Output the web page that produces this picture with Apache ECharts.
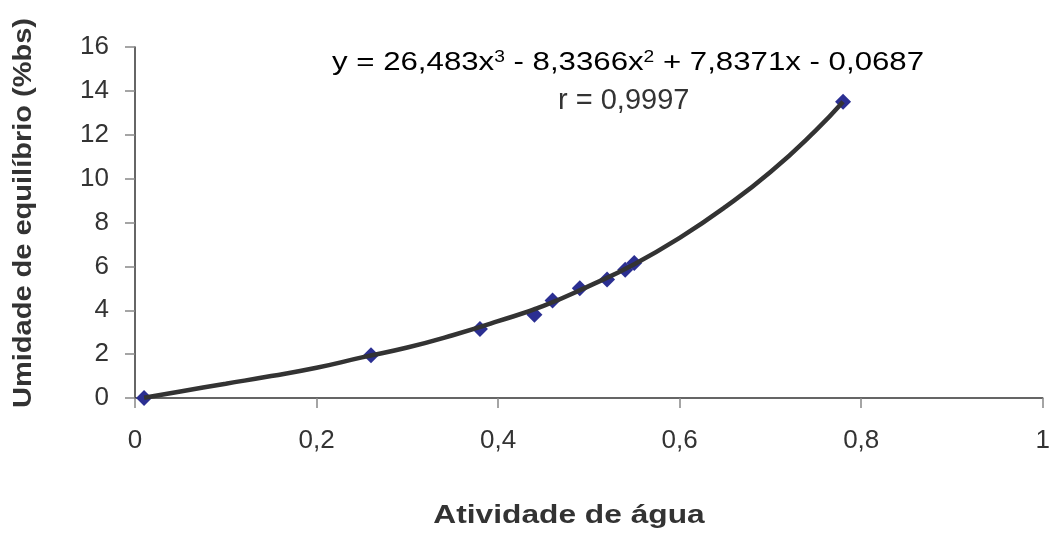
<!DOCTYPE html>
<html>
<head>
<meta charset="utf-8">
<script src="https://cdn.jsdelivr.net/npm/echarts@6/dist/echarts.min.js"></script>
<style>
  html, body { margin: 0; padding: 0; background: #fff; }
  #chart { width: 1053px; height: 536px; }
</style>
</head>
<body>
<div id="chart"></div>
<script>
// pontos medidos (atividade de água, umidade de equilíbrio)
const pontosX = [0.01, 0.26, 0.38, 0.44, 0.46, 0.49, 0.52, 0.54, 0.55, 0.78];
const pontosY = [0.0, 1.95, 3.15, 3.8, 4.45, 5.0, 5.4, 5.85, 6.15, 13.5];

// linha de tendência
const curvaX = [0.01, 0.05, 0.10, 0.15, 0.20, 0.25, 0.30, 0.35, 0.40, 0.45, 0.50, 0.55, 0.60, 0.65, 0.70, 0.75, 0.78];
const curvaY = [0.01, 0.30, 0.65, 1.00, 1.38, 1.85, 2.30, 2.86, 3.50, 4.20, 5.10, 6.10, 7.30, 8.70, 10.30, 12.20, 13.50];

// rótulos dos eixos
const ticksX = [0, 0.2, 0.4, 0.6, 0.8, 1];
const ticksY = [0, 2, 4, 6, 8, 10, 12, 14, 16];

const fonte = "'Liberation Sans', Arial, sans-serif";

let myChart = echarts.init(document.getElementById("chart"));

let option = {
  backgroundColor: "#fff",
  animation: false,
  grid: { left: 135, right: 5, top: 47, bottom: 138 },
  xAxis: {
    type: "value",
    min: ticksX[0],
    max: ticksX[ticksX.length - 1],
    interval: 0.2,
    axisLine: { lineStyle: { color: "#333", width: 1.5 } },
    axisTick: { show: true, length: 10, lineStyle: { color: "#888", width: 1.5 } },
    axisLabel: {
      fontFamily: fonte, fontSize: 26, color: "#333", margin: 30,
      formatter: (v) => String(+v.toFixed(1)).replace(".", ","),
    },
    splitLine: { show: false },
  },
  yAxis: {
    type: "value",
    min: ticksY[0],
    max: ticksY[ticksY.length - 1],
    interval: 2,
    axisLine: { show: true, lineStyle: { color: "#333", width: 1.5 } },
    axisTick: { show: true, length: 10, lineStyle: { color: "#888", width: 1.5 } },
    axisLabel: { fontFamily: fonte, fontSize: 26, color: "#333", margin: 26 },
    splitLine: { show: false },
  },
  graphic: [
    {
      // equação da tendência (esticada na horizontal como no original)
      type: "text",
      x: 332,
      y: 50,
      scaleX: 1.2,
      style: {
        text: "{n|y = 26,483x}{s|3}{n| - 8,3366x}{s|2}{n| + 7,8371x - 0,0687}",
        rich: {
          n: { fontFamily: fonte, fontSize: 26, color: "#333" },
          s: { fontFamily: fonte, fontSize: 16, color: "#333", verticalAlign: "top" },
        },
        verticalAlign: "top",
      },
    },
    {
      type: "text",
      x: 558,
      y: 86,
      style: {
        text: "r = 0,9997",
        font: "29px " + fonte,
        fill: "#333",
        verticalAlign: "top",
      },
    },
    {
      // título do eixo x
      type: "text",
      x: 569,
      y: 503,
      scaleX: 1.22,
      style: {
        text: "Atividade de água",
        font: "bold 26px " + fonte,
        fill: "#333",
        align: "center",
        verticalAlign: "top",
      },
    },
    {
      // título do eixo y
      type: "text",
      x: 24,
      y: 213,
      rotation: Math.PI / 2,
      scaleX: 1.16,
      style: {
        text: "Umidade de equilíbrio (%bs)",
        font: "bold 25px " + fonte,
        fill: "#333",
        align: "center",
        verticalAlign: "middle",
      },
    },
  ],
  series: [
    {
      name: "Pontos",
      type: "scatter",
      symbol: "diamond",
      symbolSize: 16,
      itemStyle: { color: "#2b2f92", opacity: 1 },
      z: 2,
      data: pontosX.map((x, i) => [x, pontosY[i]]),
    },
    {
      name: "Tendência",
      type: "line",
      smooth: true,
      showSymbol: false,
      lineStyle: { color: "#333", width: 4.5 },
      z: 3,
      data: curvaX.map((x, i) => [x, curvaY[i]]),
    },
  ],
};

option && myChart.setOption(option);
</script>
</body>
</html>
